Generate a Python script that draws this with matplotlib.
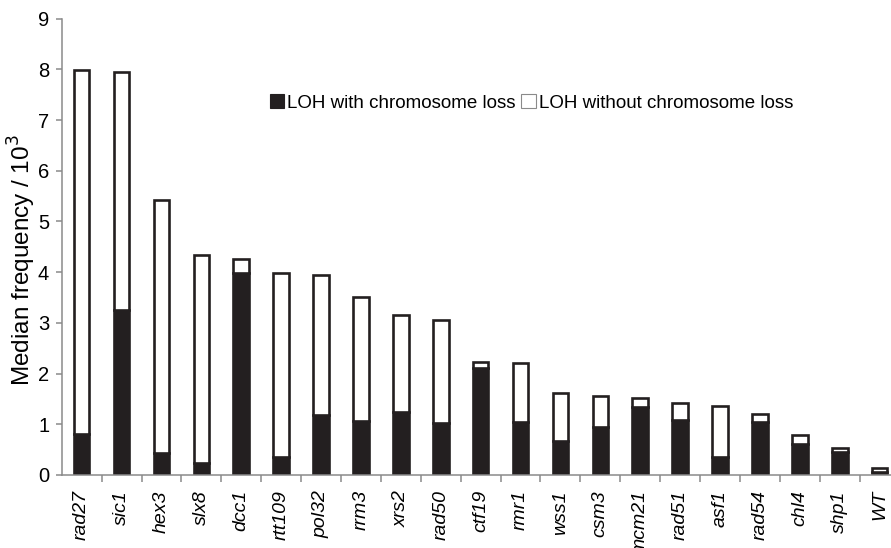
import matplotlib
matplotlib.use("Agg")
import matplotlib.pyplot as plt
from matplotlib.patches import Patch
from matplotlib.transforms import ScaledTranslation

plt.rcParams['font.family'] = ['Liberation Sans', 'DejaVu Sans']

strains = ["rad27", "sic1", "hex3", "slx8", "dcc1", "rtt109", "pol32", "rrm3",
           "xrs2", "rad50", "ctf19", "rmr1", "wss1", "csm3", "mcm21", "rad51",
           "asf1", "rad54", "chl4", "shp1", "WT"]
with_loss = [0.80, 3.25, 0.43, 0.24, 3.98, 0.35, 1.19, 1.06, 1.25, 1.03, 2.10,
             1.04, 0.67, 0.94, 1.33, 1.09, 0.35, 1.05, 0.60, 0.46, 0.05]
without_loss = [7.18, 4.70, 4.99, 4.09, 0.28, 3.64, 2.76, 2.44, 1.91, 2.02, 0.13,
                1.16, 0.94, 0.61, 0.19, 0.32, 1.00, 0.16, 0.19, 0.08, 0.08]

dark = "#231f20"
axis_grey = "#8a8a8a"

fig = plt.figure(figsize=(8.91, 5.48), dpi=100)
ax = fig.add_axes([61.7 / 891, 1 - 474.9 / 548, 837.9 / 891, (474.9 - 18.7) / 548])

x = list(range(len(strains)))
bw = 0.39
ax.bar(x, with_loss, width=bw, color=dark, edgecolor=dark, linewidth=1.9, zorder=2)
ax.bar(x, without_loss, width=bw, bottom=with_loss, color="white",
       edgecolor=dark, linewidth=1.9, zorder=2)

ax.set_xlim(-0.5, len(strains) - 0.5)
ax.set_ylim(0, 9)
ax.set_yticks(range(0, 10))

for side in ("top", "right"):
    ax.spines[side].set_visible(False)
for side in ("left", "bottom"):
    ax.spines[side].set_color(axis_grey)
    ax.spines[side].set_linewidth(1.1)

ax.set_xticks(x)
ax.set_xticklabels(strains, rotation=90, fontstyle="italic", fontsize=14)
shift = ScaledTranslation(2 / 100, 0, fig.dpi_scale_trans)
for lbl in ax.get_xticklabels():
    lbl.set_transform(lbl.get_transform() + shift)
ax.set_xticks([i - 0.5 for i in range(1, len(strains) + 1)], minor=True)
ax.tick_params(axis="x", which="major", length=0, pad=11)
ax.tick_params(axis="x", which="minor", length=5, width=1.1, color=axis_grey,
               direction="out")
ax.tick_params(axis="y", length=4, width=1.1, color=axis_grey, labelsize=14.5, pad=5)

fig.text(22 / 891, 1 - 260 / 548, "Median frequency / 10$^3$", fontsize=17.5,
         rotation=90, ha="center", va="center")

handles = [Patch(facecolor=dark, edgecolor=dark, linewidth=0.8),
           Patch(facecolor="white", edgecolor=axis_grey, linewidth=0.8)]
fig.legend(handles, ["LOH with chromosome loss", "LOH without chromosome loss"],
           ncol=2, frameon=False, fontsize=13.5, handlelength=0.75, handleheight=0.75,
           handletextpad=0.2, columnspacing=0.3, loc="center left",
           bbox_to_anchor=(262 / 891, 1 - 103 / 548), borderaxespad=0)

fig.savefig("out.png", dpi=100)
